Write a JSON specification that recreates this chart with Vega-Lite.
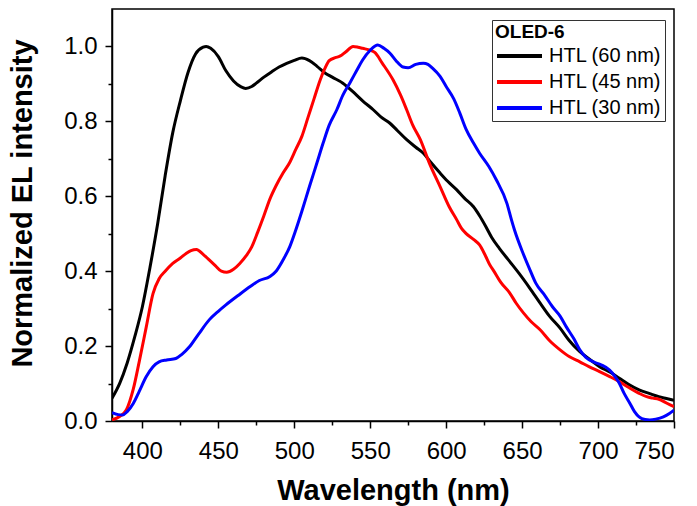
{
  "$schema": "https://vega.github.io/schema/vega-lite/v6.json",
  "width": 562,
  "height": 412,
  "autosize": {"type": "none"},
  "padding": {"left": 112, "top": 9, "right": 23, "bottom": 85},
  "background": "white",
  "data": {
    "values": [
      {"s":"HTL (60 nm)","w":380,"v":0.061},{"s":"HTL (60 nm)","w":385,"v":0.10},{"s":"HTL (60 nm)","w":390,"v":0.155},{"s":"HTL (60 nm)","w":395,"v":0.225},{"s":"HTL (60 nm)","w":400,"v":0.305},{"s":"HTL (60 nm)","w":405,"v":0.41},{"s":"HTL (60 nm)","w":410,"v":0.525},{"s":"HTL (60 nm)","w":415,"v":0.655},{"s":"HTL (60 nm)","w":420,"v":0.77},{"s":"HTL (60 nm)","w":425,"v":0.855},{"s":"HTL (60 nm)","w":430,"v":0.93},{"s":"HTL (60 nm)","w":435,"v":0.98},{"s":"HTL (60 nm)","w":440,"v":0.998},{"s":"HTL (60 nm)","w":442,"v":1.0},{"s":"HTL (60 nm)","w":445,"v":0.995},{"s":"HTL (60 nm)","w":450,"v":0.973},{"s":"HTL (60 nm)","w":455,"v":0.935},{"s":"HTL (60 nm)","w":460,"v":0.908},{"s":"HTL (60 nm)","w":465,"v":0.892},{"s":"HTL (60 nm)","w":468,"v":0.888},{"s":"HTL (60 nm)","w":472,"v":0.893},{"s":"HTL (60 nm)","w":475,"v":0.902},{"s":"HTL (60 nm)","w":480,"v":0.918},{"s":"HTL (60 nm)","w":485,"v":0.932},{"s":"HTL (60 nm)","w":490,"v":0.945},{"s":"HTL (60 nm)","w":495,"v":0.955},{"s":"HTL (60 nm)","w":500,"v":0.963},{"s":"HTL (60 nm)","w":505,"v":0.969},{"s":"HTL (60 nm)","w":510,"v":0.962},{"s":"HTL (60 nm)","w":515,"v":0.947},{"s":"HTL (60 nm)","w":520,"v":0.93},{"s":"HTL (60 nm)","w":525,"v":0.918},{"s":"HTL (60 nm)","w":532,"v":0.902},{"s":"HTL (60 nm)","w":540,"v":0.874},{"s":"HTL (60 nm)","w":545,"v":0.855},{"s":"HTL (60 nm)","w":552,"v":0.831},{"s":"HTL (60 nm)","w":557,"v":0.812},{"s":"HTL (60 nm)","w":563,"v":0.795},{"s":"HTL (60 nm)","w":568,"v":0.775},{"s":"HTL (60 nm)","w":574,"v":0.751},{"s":"HTL (60 nm)","w":580,"v":0.731},{"s":"HTL (60 nm)","w":585,"v":0.715},{"s":"HTL (60 nm)","w":590,"v":0.69},{"s":"HTL (60 nm)","w":596,"v":0.662},{"s":"HTL (60 nm)","w":601,"v":0.64},{"s":"HTL (60 nm)","w":607,"v":0.617},{"s":"HTL (60 nm)","w":612,"v":0.595},{"s":"HTL (60 nm)","w":618,"v":0.572},{"s":"HTL (60 nm)","w":622,"v":0.548},{"s":"HTL (60 nm)","w":626,"v":0.52},{"s":"HTL (60 nm)","w":630,"v":0.49},{"s":"HTL (60 nm)","w":635,"v":0.461},{"s":"HTL (60 nm)","w":641,"v":0.43},{"s":"HTL (60 nm)","w":648,"v":0.394},{"s":"HTL (60 nm)","w":655,"v":0.355},{"s":"HTL (60 nm)","w":662,"v":0.314},{"s":"HTL (60 nm)","w":668,"v":0.28},{"s":"HTL (60 nm)","w":675,"v":0.248},{"s":"HTL (60 nm)","w":681,"v":0.215},{"s":"HTL (60 nm)","w":688,"v":0.185},{"s":"HTL (60 nm)","w":695,"v":0.163},{"s":"HTL (60 nm)","w":701,"v":0.145},{"s":"HTL (60 nm)","w":708,"v":0.13},{"s":"HTL (60 nm)","w":714,"v":0.114},{"s":"HTL (60 nm)","w":720,"v":0.098},{"s":"HTL (60 nm)","w":727,"v":0.083},{"s":"HTL (60 nm)","w":734,"v":0.073},{"s":"HTL (60 nm)","w":740,"v":0.065},{"s":"HTL (60 nm)","w":745,"v":0.06},{"s":"HTL (60 nm)","w":750,"v":0.055},

      {"s":"HTL (45 nm)","w":380,"v":0.003},{"s":"HTL (45 nm)","w":385,"v":0.012},{"s":"HTL (45 nm)","w":389.5,"v":0.03},{"s":"HTL (45 nm)","w":394,"v":0.085},{"s":"HTL (45 nm)","w":398,"v":0.16},{"s":"HTL (45 nm)","w":402.5,"v":0.25},{"s":"HTL (45 nm)","w":407,"v":0.34},{"s":"HTL (45 nm)","w":411,"v":0.38},{"s":"HTL (45 nm)","w":415,"v":0.40},{"s":"HTL (45 nm)","w":420,"v":0.421},{"s":"HTL (45 nm)","w":425,"v":0.435},{"s":"HTL (45 nm)","w":429,"v":0.448},{"s":"HTL (45 nm)","w":432,"v":0.455},{"s":"HTL (45 nm)","w":435.6,"v":0.458},{"s":"HTL (45 nm)","w":440,"v":0.445},{"s":"HTL (45 nm)","w":444,"v":0.43},{"s":"HTL (45 nm)","w":448,"v":0.415},{"s":"HTL (45 nm)","w":452,"v":0.40},{"s":"HTL (45 nm)","w":455.5,"v":0.397},{"s":"HTL (45 nm)","w":460,"v":0.405},{"s":"HTL (45 nm)","w":464,"v":0.42},{"s":"HTL (45 nm)","w":468.5,"v":0.442},{"s":"HTL (45 nm)","w":472,"v":0.465},{"s":"HTL (45 nm)","w":476,"v":0.505},{"s":"HTL (45 nm)","w":480,"v":0.548},{"s":"HTL (45 nm)","w":484,"v":0.593},{"s":"HTL (45 nm)","w":488,"v":0.628},{"s":"HTL (45 nm)","w":492.6,"v":0.662},{"s":"HTL (45 nm)","w":497,"v":0.69},{"s":"HTL (45 nm)","w":501,"v":0.725},{"s":"HTL (45 nm)","w":505,"v":0.76},{"s":"HTL (45 nm)","w":509,"v":0.81},{"s":"HTL (45 nm)","w":513,"v":0.86},{"s":"HTL (45 nm)","w":517,"v":0.91},{"s":"HTL (45 nm)","w":520,"v":0.94},{"s":"HTL (45 nm)","w":523,"v":0.962},{"s":"HTL (45 nm)","w":527,"v":0.97},{"s":"HTL (45 nm)","w":530,"v":0.974},{"s":"HTL (45 nm)","w":534,"v":0.986},{"s":"HTL (45 nm)","w":538.7,"v":1.0},{"s":"HTL (45 nm)","w":542,"v":0.998},{"s":"HTL (45 nm)","w":545,"v":0.995},{"s":"HTL (45 nm)","w":550,"v":0.99},{"s":"HTL (45 nm)","w":553,"v":0.984},{"s":"HTL (45 nm)","w":558,"v":0.955},{"s":"HTL (45 nm)","w":565,"v":0.911},{"s":"HTL (45 nm)","w":570,"v":0.87},{"s":"HTL (45 nm)","w":574,"v":0.831},{"s":"HTL (45 nm)","w":578,"v":0.79},{"s":"HTL (45 nm)","w":583,"v":0.751},{"s":"HTL (45 nm)","w":589,"v":0.688},{"s":"HTL (45 nm)","w":596,"v":0.626},{"s":"HTL (45 nm)","w":602,"v":0.572},{"s":"HTL (45 nm)","w":607,"v":0.537},{"s":"HTL (45 nm)","w":610,"v":0.515},{"s":"HTL (45 nm)","w":613,"v":0.501},{"s":"HTL (45 nm)","w":618,"v":0.485},{"s":"HTL (45 nm)","w":622,"v":0.47},{"s":"HTL (45 nm)","w":626,"v":0.44},{"s":"HTL (45 nm)","w":629,"v":0.415},{"s":"HTL (45 nm)","w":631,"v":0.403},{"s":"HTL (45 nm)","w":636,"v":0.37},{"s":"HTL (45 nm)","w":642,"v":0.341},{"s":"HTL (45 nm)","w":646,"v":0.315},{"s":"HTL (45 nm)","w":651,"v":0.288},{"s":"HTL (45 nm)","w":656,"v":0.265},{"s":"HTL (45 nm)","w":662,"v":0.243},{"s":"HTL (45 nm)","w":668,"v":0.215},{"s":"HTL (45 nm)","w":675,"v":0.19},{"s":"HTL (45 nm)","w":681,"v":0.172},{"s":"HTL (45 nm)","w":688,"v":0.158},{"s":"HTL (45 nm)","w":694,"v":0.145},{"s":"HTL (45 nm)","w":701,"v":0.132},{"s":"HTL (45 nm)","w":708,"v":0.118},{"s":"HTL (45 nm)","w":714,"v":0.105},{"s":"HTL (45 nm)","w":720,"v":0.09},{"s":"HTL (45 nm)","w":727,"v":0.074},{"s":"HTL (45 nm)","w":732,"v":0.065},{"s":"HTL (45 nm)","w":736,"v":0.061},{"s":"HTL (45 nm)","w":740,"v":0.058},{"s":"HTL (45 nm)","w":745,"v":0.048},{"s":"HTL (45 nm)","w":750,"v":0.038},

      {"s":"HTL (30 nm)","w":380,"v":0.022},{"s":"HTL (30 nm)","w":384,"v":0.017},{"s":"HTL (30 nm)","w":387,"v":0.016},{"s":"HTL (30 nm)","w":390,"v":0.025},{"s":"HTL (30 nm)","w":394,"v":0.047},{"s":"HTL (30 nm)","w":398,"v":0.08},{"s":"HTL (30 nm)","w":402.5,"v":0.118},{"s":"HTL (30 nm)","w":407,"v":0.145},{"s":"HTL (30 nm)","w":411,"v":0.158},{"s":"HTL (30 nm)","w":416,"v":0.163},{"s":"HTL (30 nm)","w":422,"v":0.167},{"s":"HTL (30 nm)","w":426,"v":0.178},{"s":"HTL (30 nm)","w":431,"v":0.198},{"s":"HTL (30 nm)","w":437,"v":0.232},{"s":"HTL (30 nm)","w":444,"v":0.27},{"s":"HTL (30 nm)","w":450,"v":0.293},{"s":"HTL (30 nm)","w":455,"v":0.31},{"s":"HTL (30 nm)","w":463,"v":0.335},{"s":"HTL (30 nm)","w":471,"v":0.359},{"s":"HTL (30 nm)","w":477,"v":0.375},{"s":"HTL (30 nm)","w":484,"v":0.386},{"s":"HTL (30 nm)","w":488,"v":0.4},{"s":"HTL (30 nm)","w":492.6,"v":0.43},{"s":"HTL (30 nm)","w":497,"v":0.465},{"s":"HTL (30 nm)","w":501,"v":0.51},{"s":"HTL (30 nm)","w":505,"v":0.56},{"s":"HTL (30 nm)","w":510,"v":0.626},{"s":"HTL (30 nm)","w":515,"v":0.69},{"s":"HTL (30 nm)","w":519,"v":0.742},{"s":"HTL (30 nm)","w":523,"v":0.79},{"s":"HTL (30 nm)","w":528,"v":0.831},{"s":"HTL (30 nm)","w":532,"v":0.87},{"s":"HTL (30 nm)","w":536.5,"v":0.902},{"s":"HTL (30 nm)","w":541,"v":0.935},{"s":"HTL (30 nm)","w":545,"v":0.964},{"s":"HTL (30 nm)","w":550,"v":0.99},{"s":"HTL (30 nm)","w":555,"v":1.004},{"s":"HTL (30 nm)","w":559,"v":0.995},{"s":"HTL (30 nm)","w":563,"v":0.982},{"s":"HTL (30 nm)","w":567,"v":0.962},{"s":"HTL (30 nm)","w":571.6,"v":0.945},{"s":"HTL (30 nm)","w":575,"v":0.943},{"s":"HTL (30 nm)","w":580,"v":0.952},{"s":"HTL (30 nm)","w":585,"v":0.955},{"s":"HTL (30 nm)","w":588,"v":0.952},{"s":"HTL (30 nm)","w":591,"v":0.942},{"s":"HTL (30 nm)","w":596,"v":0.92},{"s":"HTL (30 nm)","w":600,"v":0.893},{"s":"HTL (30 nm)","w":605,"v":0.86},{"s":"HTL (30 nm)","w":609,"v":0.822},{"s":"HTL (30 nm)","w":613,"v":0.78},{"s":"HTL (30 nm)","w":618,"v":0.742},{"s":"HTL (30 nm)","w":622,"v":0.715},{"s":"HTL (30 nm)","w":628,"v":0.68},{"s":"HTL (30 nm)","w":633,"v":0.644},{"s":"HTL (30 nm)","w":640,"v":0.581},{"s":"HTL (30 nm)","w":643,"v":0.537},{"s":"HTL (30 nm)","w":645,"v":0.51},{"s":"HTL (30 nm)","w":650.6,"v":0.448},{"s":"HTL (30 nm)","w":655,"v":0.405},{"s":"HTL (30 nm)","w":659,"v":0.368},{"s":"HTL (30 nm)","w":665,"v":0.335},{"s":"HTL (30 nm)","w":670,"v":0.305},{"s":"HTL (30 nm)","w":675,"v":0.28},{"s":"HTL (30 nm)","w":679,"v":0.252},{"s":"HTL (30 nm)","w":684,"v":0.22},{"s":"HTL (30 nm)","w":688,"v":0.19},{"s":"HTL (30 nm)","w":692,"v":0.17},{"s":"HTL (30 nm)","w":697,"v":0.158},{"s":"HTL (30 nm)","w":702,"v":0.15},{"s":"HTL (30 nm)","w":707.6,"v":0.136},{"s":"HTL (30 nm)","w":711,"v":0.12},{"s":"HTL (30 nm)","w":714,"v":0.101},{"s":"HTL (30 nm)","w":717,"v":0.075},{"s":"HTL (30 nm)","w":721,"v":0.047},{"s":"HTL (30 nm)","w":724,"v":0.025},{"s":"HTL (30 nm)","w":727,"v":0.011},{"s":"HTL (30 nm)","w":731,"v":0.004},{"s":"HTL (30 nm)","w":734,"v":0.003},{"s":"HTL (30 nm)","w":738,"v":0.005},{"s":"HTL (30 nm)","w":743,"v":0.011},{"s":"HTL (30 nm)","w":747,"v":0.02},{"s":"HTL (30 nm)","w":750,"v":0.029}
    ]
  },
  "mark": {"type": "line", "strokeWidth": 3, "interpolate": "monotone", "clip": true},
  "encoding": {
    "x": {
      "field": "w", "type": "quantitative",
      "scale": {"domain": [380, 750], "nice": false, "zero": false},
      "axis": {
        "title": "Wavelength (nm)",
        "values": [400,425,450,475,500,525,550,575,600,625,650,675,700,725,750],
        "labelExpr": "datum.value % 50 === 0 ? datum.label : ''",
        "tickSize": {"condition": {"test": "datum.value % 50 === 0", "value": 7}, "value": 4},
        "labelPadding": 11,
        "titlePadding": 13
      }
    },
    "y": {
      "field": "v", "type": "quantitative",
      "scale": {"domain": [0, 1.1], "nice": false},
      "axis": {
        "title": "Normalized EL intensity",
        "values": [0,0.1,0.2,0.3,0.4,0.5,0.6,0.7,0.8,0.9,1.0],
        "labelExpr": "round(datum.value*10) % 2 === 0 ? format(datum.value, '.1f') : ''",
        "tickSize": {"condition": {"test": "round(datum.value*10) % 2 === 0", "value": 7}, "value": 4},
        "labelPadding": 8,
        "titlePadding": 26,
        "titleY": 194
      }
    },
    "color": {
      "field": "s", "type": "nominal",
      "scale": {"domain": ["HTL (60 nm)", "HTL (45 nm)", "HTL (30 nm)"], "range": ["#000000", "#ff0000", "#0000ff"]},
      "legend": {
        "title": "OLED-6",
        "orient": "none",
        "legendX": 380,
        "legendY": 11,
        "strokeColor": "#333333",
        "padding": 3,
        "symbolType": "M-1,0H4",
        "symbolStrokeWidth": 4,
        "symbolSize": 324,
        "labelFontSize": 20,
        "titleFontSize": 19,
        "titleFontWeight": "bold",
        "titlePadding": 3,
        "rowPadding": 5,
        "labelOffset": 32
      }
    }
  },
  "config": {
    "font": "Liberation Sans",
    "view": {"stroke": "#000000", "strokeWidth": 1.5},
    "axis": {
      "grid": false,
      "domainColor": "#000000",
      "domainWidth": 1.5,
      "tickColor": "#000000",
      "tickWidth": 1.5,
      "labelColor": "#000000",
      "labelFont": "Liberation Sans",
      "labelFontSize": 24,
      "titleColor": "#000000",
      "titleFont": "Liberation Sans",
      "titleFontSize": 29,
      "titleFontWeight": "bold"
    },
    "legend": {
      "labelFont": "Liberation Sans",
      "titleFont": "Liberation Sans",
      "labelColor": "#000000",
      "titleColor": "#000000"
    }
  }
}
